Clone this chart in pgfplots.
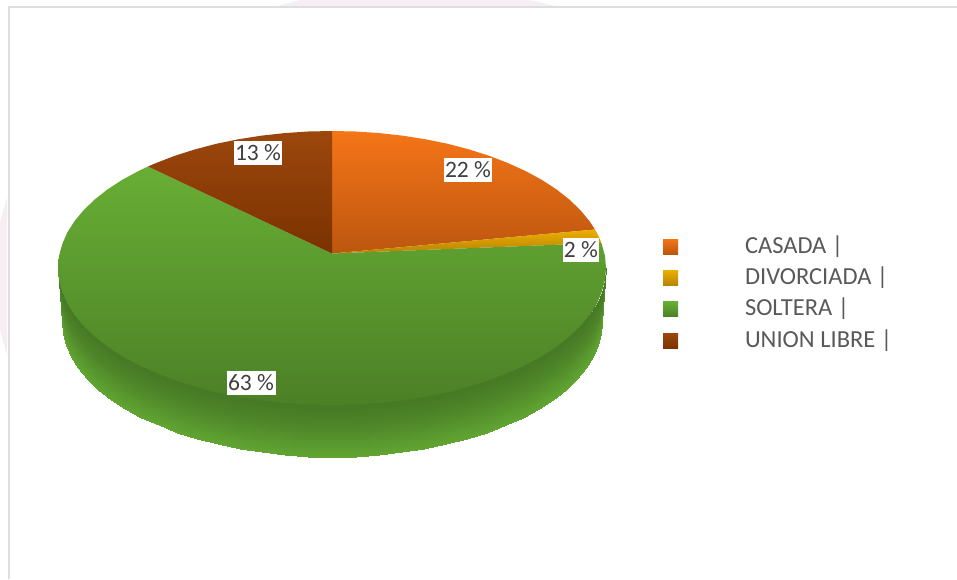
\documentclass[border=0pt]{standalone}
\usepackage{fontspec}
\setmainfont{Carlito}
\usepackage{pgfplots}
\pgfplotsset{compat=1.18}

\definecolor{frameline}{HTML}{DEDEDE}
\definecolor{legendtext}{HTML}{595959}
\definecolor{labeltext}{HTML}{404040}
\definecolor{washpink}{HTML}{F7EEF3}
\definecolor{rimdark}{HTML}{477A24}
\definecolor{casadaA}{HTML}{F57518}
\definecolor{casadaB}{HTML}{BC560F}
\definecolor{divorA}{HTML}{ECAE00}
\definecolor{divorB}{HTML}{B88300}
\definecolor{solteraA}{HTML}{68AE35}
\definecolor{solteraB}{HTML}{4C8026}
\definecolor{unionA}{HTML}{9C470D}
\definecolor{unionB}{HTML}{7A3200}

% Legend key: a 15pt shaded square followed by the gap up to the entry text
\newcommand{\swatch}[2]{\path[top color=#1,bottom color=#2,draw=none]
   (0pt,-7.5pt) rectangle (15pt,7.5pt); \path (82pt,0pt);}

\begin{document}
\begin{tikzpicture}
\begin{axis}[
  scale only axis, width=957pt, height=579pt,
  xmin=0, xmax=957, ymin=0, ymax=579, y dir=reverse,
  hide axis, clip=true,
  colormap={rim}{rgb255(0cm)=(70,120,36) rgb255(4cm)=(78,134,41) rgb255(10cm)=(97,165,50)},
  point meta min=0, point meta max=1,
  legend style={
    at={(axis cs:663,236)}, anchor=north west, draw=none, fill=none,
    inner sep=0pt, outer sep=0pt, row sep=10.4pt,
    font=\fontsize{24.5}{28}\selectfont, text=legendtext,
    nodes={inner sep=0pt, text height=17pt, text depth=4pt},
    cells={anchor=west}},
]
% page ground, frame and the pale wash along the margins
\addplot[fill=white, draw=none, forget plot] coordinates
  {(0,0) (957,0) (957,579) (0,579) (0,0)};
\addplot[fill=washpink, draw=none, forget plot] coordinates
  {(278,6) (300,0) (530,0) (555,6) (278,6)};
\addplot[fill=washpink, draw=none, forget plot] coordinates
  {(7,198) (0,222) (0,330) (7,355) (7,198)};
\addplot[draw=frameline, line width=2pt, forget plot] coordinates
  {(9,579) (9,7) (957,7)};

% SOLTERA rim: dark along the upper edge, light along the lower edge
\addplot[surf, shader=interp, mesh/rows=2, mesh/cols=37, point meta=explicit,
         forget plot, draw=none] coordinates {
  (58,268) [0] (59,279.9) [0] (62.2,291.8) [0] (67.3,303.5) [0] (74.5,314.9) [0]
  (83.7,325.9) [0] (94.7,336.5) [0] (107.5,346.6) [0] (122.1,356.1) [0]
  (138.3,364.9) [0] (155.9,372.9) [0] (174.8,380.2) [0] (195,386.6) [0]
  (216.2,392.2) [0] (238.3,396.7) [0] (261.1,400.3) [0] (284.4,402.9) [0]
  (308.1,404.5) [0] (332,405) [0] (355.9,404.5) [0] (379.6,402.9) [0]
  (402.9,400.3) [0] (425.7,396.7) [0] (447.8,392.2) [0] (469,386.6) [0]
  (489.2,380.2) [0] (508.1,372.9) [0] (525.7,364.9) [0] (541.9,356.1) [0]
  (556.5,346.6) [0] (569.3,336.5) [0] (580.3,325.9) [0] (589.5,314.9) [0]
  (596.7,303.5) [0] (601.8,291.8) [0] (605,279.9) [0] (606,268) [0]

  (62,322) [1] (63,333.7) [1] (66.1,345.4) [1] (71.2,357) [1] (78.3,368.2) [1]
  (87.3,379) [1] (98.2,389.5) [1] (110.8,399.5) [1] (125.2,408.8) [1]
  (141.1,417.5) [1] (158.5,425.4) [1] (177.1,432.6) [1] (197,438.9) [1]
  (217.9,444.4) [1] (239.7,448.8) [1] (262.1,452.4) [1] (285.1,454.9) [1]
  (308.4,456.5) [1] (332,457) [1] (355.6,456.5) [1] (378.9,454.9) [1]
  (401.9,452.4) [1] (424.3,448.8) [1] (446.1,444.4) [1] (467,438.9) [1]
  (486.9,432.6) [1] (505.5,425.4) [1] (522.9,417.5) [1] (538.8,408.8) [1]
  (553.2,399.5) [1] (565.8,389.5) [1] (576.7,379) [1] (585.7,368.2) [1]
  (592.8,357) [1] (597.9,345.4) [1] (601,333.7) [1] (602,322) [1]};

% backing under the disc's front edge, so rim and face join without a seam
\addplot[fill=rimdark, draw=none, forget plot] coordinates {
  (60,272) (61,283.9) (64,295.8) (69,307.5) (76,318.9)
  (85,329.9) (96,340.5) (108.5,350.6) (123,360.1)
  (139,368.9) (156.5,376.9) (175.3,384.2) (195.4,390.6)
  (216.5,396.2) (238.5,400.7) (261.2,404.3) (284.5,406.9)
  (308.1,408.5) (332,409) (355.9,408.5) (379.5,406.9)
  (402.8,404.3) (425.5,400.7) (447.5,396.2) (468.6,390.6)
  (488.7,384.2) (507.5,376.9) (525,368.9) (541,360.1)
  (555.5,350.6) (568,340.5) (579,329.9) (588,318.9)
  (595,307.5) (600,295.8) (603,283.9) (604,272) (60,272)};

% CASADA
\addplot[top color=casadaA, bottom color=casadaB, draw=none,
  legend image code/.code={\swatch{casadaA}{casadaB}}]
  coordinates {
  (332,253.5) (332,131) (355.9,131.5) (379.6,133.1) (402.9,135.7) (425.7,139.3)
  (447.8,143.8) (469,149.4) (489.2,155.8) (508.1,163.1) (525.7,171.1)
  (541.9,179.9) (556.5,189.4) (569.3,199.5) (580.3,210.1) (589.5,221.1)
  (595,229.5) (332,253.5)};
\addlegendentry{CASADA |}

% DIVORCIADA
\addplot[top color=divorA, bottom color=divorB, draw=none,
  legend image code/.code={\swatch{divorA}{divorB}}]
  coordinates {
  (332,253.5) (595,229.5) (596.7,232.5) (599.5,238.4) (601.4,243) (332,253.5)};
\addlegendentry{DIVORCIADA |}

% SOLTERA
\addplot[top color=solteraA, bottom color=solteraB, draw=none,
  legend image code/.code={\swatch{solteraA}{solteraB}}]
  coordinates {
  (332,253.5) (601.4,243) (605,256.1) (606,268) (605,279.9) (601.8,291.8)
  (596.7,303.5) (589.5,314.9) (580.3,325.9) (569.3,336.5) (556.5,346.6)
  (541.9,356.1) (525.7,364.9) (508.1,372.9) (489.2,380.2) (469,386.6)
  (447.8,392.2) (425.7,396.7) (402.9,400.3) (379.6,402.9) (355.9,404.5)
  (332,405) (308.1,404.5) (284.4,402.9) (261.1,400.3) (238.3,396.7)
  (216.2,392.2) (195,386.6) (174.8,380.2) (155.9,372.9) (138.3,364.9)
  (122.1,356.1) (107.5,346.6) (94.7,336.5) (83.7,325.9) (74.5,314.9)
  (67.3,303.5) (62.2,291.8) (59,279.9) (58,268) (59,256.1) (62.2,244.2)
  (67.3,232.5) (74.5,221.1) (83.7,210.1) (94.7,199.5) (107.5,189.4)
  (122.1,179.9) (138.3,171.1) (148,166.5) (332,253.5)};
\addlegendentry{SOLTERA |}

% UNION LIBRE
\addplot[top color=unionA, bottom color=unionB, draw=none,
  legend image code/.code={\swatch{unionA}{unionB}}]
  coordinates {
  (332,253.5) (148,166.5) (155.9,163.1) (174.8,155.8) (195,149.4) (216.2,143.8)
  (238.3,139.3) (261.1,135.7) (284.4,133.1) (308.1,131.5) (332,131) (332,253.5)};
\addlegendentry{UNION LIBRE |}

% percentage labels on white plates
\begin{scope}[every node/.style={fill=white, text=labeltext, inner sep=0pt,
    minimum height=24pt, font=\fontsize{23.5}{27}\selectfont}]
  \node[minimum width=48pt] at (axis cs:468,170) {22 \%};
  \node[minimum width=36pt] at (axis cs:581,250) {2 \%};
  \node[minimum width=49pt] at (axis cs:251,383) {63 \%};
  \node[minimum width=48pt] at (axis cs:258,153) {13 \%};
\end{scope}
\end{axis}
\end{tikzpicture}
\end{document}
